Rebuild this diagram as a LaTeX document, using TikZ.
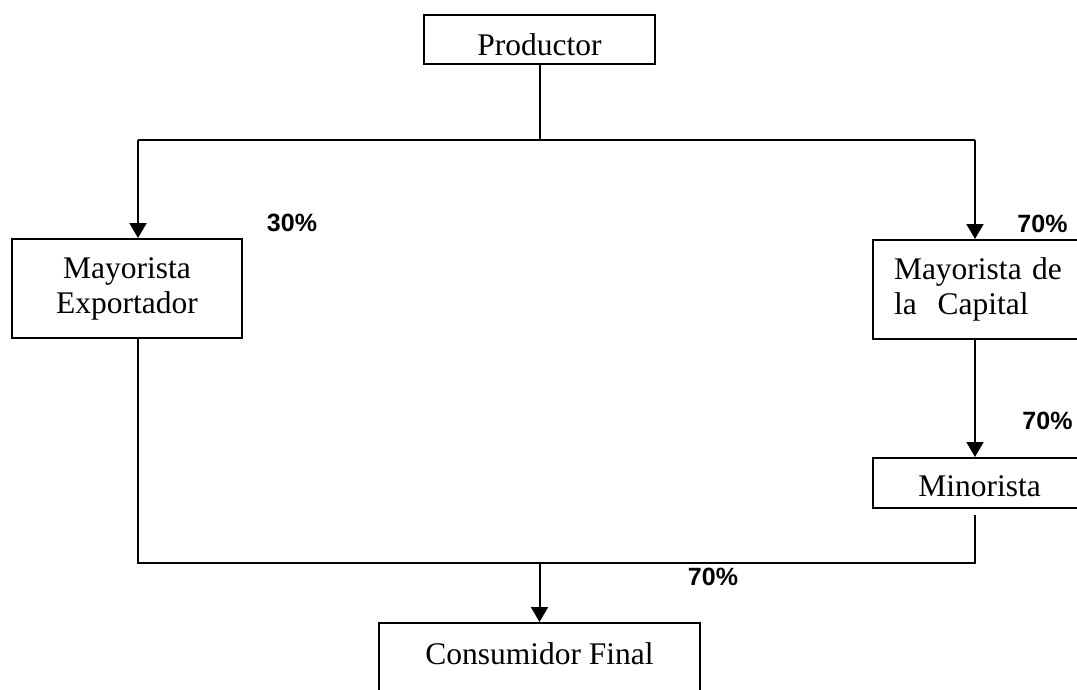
\documentclass[tikz,border=0pt]{standalone}
\usepackage{fontspec}
\setmainfont{Liberation Serif}
\newfontfamily\pctfont{Liberation Sans}
\usetikzlibrary{arrows.meta}
\begin{document}
\begin{tikzpicture}[x=1pt,y=-1pt,
  box/.style={draw, line width=2pt, inner sep=0pt, font=\fontsize{31.5}{35}\selectfont},
  pct/.style={font=\pctfont\bfseries\fontsize{25}{28}\selectfont, inner sep=0pt},
  link/.style={line width=2pt},
  arr/.style={line width=2pt, -{Triangle[width=17pt,length=15pt]}}]
\useasboundingbox (0,0) rectangle (1077,690);
\clip (0,0) rectangle (1077,690);
\fill[white] (0,0) rectangle (1077,690);

% boxes
\node[box, minimum width=231pt, minimum height=49pt, text height=31.5pt, text depth=0pt] (prod) at (539.5,39.5) {Productor};
\node[box, minimum width=230pt, minimum height=99pt, align=center] (mexp) at (127,288.5) {Mayorista\\Exportador};
\node[box, anchor=north west, minimum height=99pt, text width=171pt, inner xsep=21pt, align=left] (mcap) at (872,239) {Mayorista de\\la\ \ Capital};
\node[box, anchor=north west, minimum width=213pt, minimum height=50pt, text height=27.5pt, text depth=0pt] (mino) at (872,457) {Minorista};
\node[box, anchor=north, minimum width=321pt, minimum height=78pt, text height=16pt, text depth=12pt] (cons) at (539.5,622) {Consumidor Final};

% junction points
\coordinate (jt) at (539.5,140);
\coordinate (lt) at (138,140);
\coordinate (rt) at (975,140);
\coordinate (lb) at (138,563);
\coordinate (rb) at (975,563);
\coordinate (jb) at (539.5,563);

% connectors
\draw[link] (prod.south) -- (jt);
\draw[link] (lt) -- (rt);
\draw[arr] (lt) -- (lt |- mexp.north);
\draw[arr] (rt) -- (rt |- mcap.north);
\draw[arr] (mcap.south -| rt) -- (mino.north -| rt);
\draw[link] (mexp.south -| lb) -- (lb) -- (rb) -- ([yshift=-6pt]mino.south -| rb);
\draw[arr] (jb) -- (cons.north);

% percentages
\node[pct] (p30) at (292,222.5) {30\%};
\node[pct] (p70a) at (1042.5,223.5) {70\%};
\node[pct] (p70b) at (1047.5,421) {70\%};
\node[pct] (p70c) at (713,576.5) {70\%};
\end{tikzpicture}
\end{document}
